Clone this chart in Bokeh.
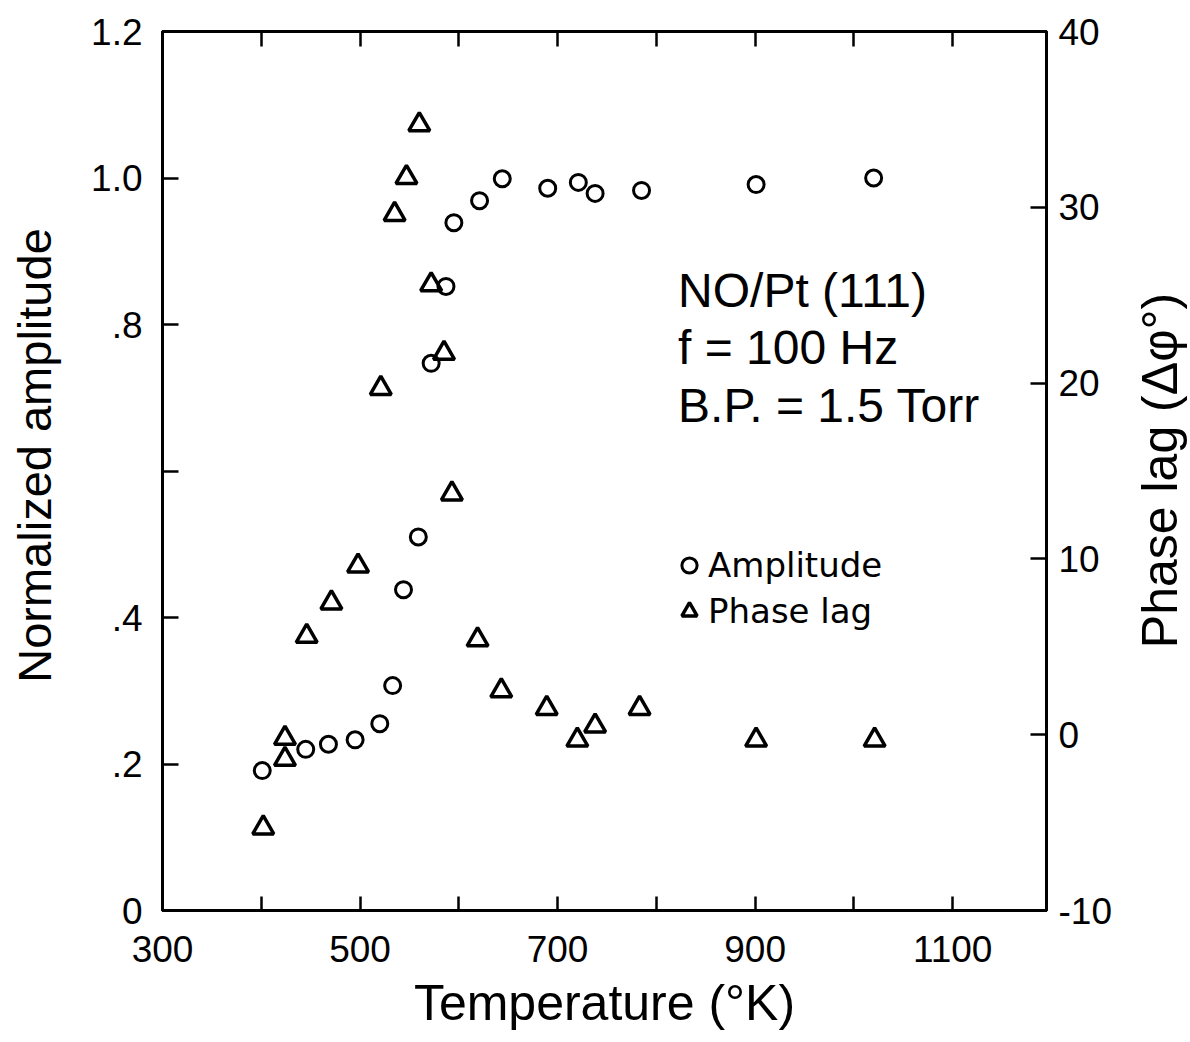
import math
from bokeh.plotting import figure
from bokeh.layouts import row
from bokeh.models import Range1d, LinearAxis, FixedTicker, Label, Legend, LegendItem
from bokeh.embed import file_html
from bokeh.resources import INLINE

# ---- data ----
amp_T = [401, 445, 468, 495, 520, 533, 544, 559, 572, 587, 595, 621, 644, 690, 721, 738, 785, 901, 1020]
amp_val = [0.191, 0.220, 0.227, 0.233, 0.255, 0.307, 0.438, 0.510, 0.747, 0.852, 0.939,
           0.969, 0.999, 0.986, 0.994, 0.979, 0.983, 0.991, 1.000]
phase_T = [402, 424, 424, 446, 471, 498, 521, 535, 547, 560, 572, 585, 593, 619, 643,
           689, 720, 738, 783, 901, 1021]
phase_val = [-5.3, -0.2, -1.4, 5.6, 7.5, 9.6, 19.7, 29.6, 31.7, 34.7, 25.6, 21.7, 13.7,
             5.4, 2.5, 1.5, -0.3, 0.5, 1.5, -0.3, -0.3]

x_major_ticks = [300, 500, 700, 900, 1100]
x_minor_ticks = [400, 600, 800, 1000]
x_top_ticks = [400, 500, 600, 700, 800, 900, 1000, 1100]
amp_major_ticks = [0, 0.2, 0.4, 0.8, 1, 1.2]
amp_minor_ticks = [0.6]
amp_tick_labels = {0: "0", 0.2: ".2", 0.4: ".4", 0.8: ".8", 1: "1.0", 1.2: "1.2"}
phase_ticks = [-10, 0, 10, 20, 30, 40]
phase_tick_labels = {-10: "-10"}

annotation_lines = ["NO/Pt (111)", "f = 100 Hz", "B.P. = 1.5 Torr"]
annotation_amp = [0.846, 0.769, 0.689]

x_title = "Temperature (°K)"
y_title = "Normalized amplitude"
y2_title = "Phase lag (Δφ°)"

FONT = "Liberation Sans"
H = 1042
W_LEFT, W_MAIN, W_RIGHT = 88, 1032, 70

p = figure(width=W_MAIN, height=H,
           x_range=Range1d(300, 1195), y_range=Range1d(0, 1.2),
           output_backend="svg", toolbar_location=None,
           min_border_left=73, min_border_right=74,
           min_border_top=31, min_border_bottom=132,
           x_axis_label=x_title)
p.extra_y_ranges = {"phase": Range1d(-10, 40)}
p.background_fill_color = "white"
p.border_fill_color = "white"
p.grid.visible = False
p.outline_line_color = "black"
p.outline_line_width = 3

right_axis = LinearAxis(y_range_name="phase")
p.add_layout(right_axis, "right")
top_axis = LinearAxis()
p.add_layout(top_axis, "above")

def style_axis(ax, tick_in):
    ax.axis_line_color = "black"
    ax.axis_line_width = 3
    ax.major_tick_line_color = "black"
    ax.major_tick_line_width = 2.5
    ax.major_tick_in = tick_in
    ax.major_tick_out = 0
    ax.minor_tick_line_color = "black"
    ax.minor_tick_line_width = 2.5
    ax.minor_tick_in = tick_in
    ax.minor_tick_out = 0
    ax.major_label_text_font = FONT
    ax.major_label_text_font_size = "37px"
    ax.major_label_text_color = "black"
    ax.axis_label_text_font = FONT
    ax.axis_label_text_font_style = "normal"
    ax.axis_label_text_color = "black"

xb = p.below[0]
style_axis(xb, 14)
xb.ticker = FixedTicker(ticks=x_major_ticks, minor_ticks=x_minor_ticks)
xb.major_label_standoff = 25
xb.axis_label_text_font_size = "50px"
xb.axis_label_standoff = 10

style_axis(top_axis, 15)
top_axis.ticker = FixedTicker(ticks=[], minor_ticks=x_top_ticks)
top_axis.major_label_standoff = 0

yl = p.left[0]
style_axis(yl, 16)
yl.ticker = FixedTicker(ticks=amp_major_ticks, minor_ticks=amp_minor_ticks)
yl.major_label_overrides = amp_tick_labels
yl.major_label_standoff = 20

style_axis(right_axis, 16)
right_axis.ticker = FixedTicker(ticks=phase_ticks, minor_ticks=[])
right_axis.major_label_overrides = phase_tick_labels
right_axis.major_label_standoff = 12

circ = p.scatter(amp_T, amp_val, marker="circle", size=16, fill_color=None,
                 line_color="black", line_width=3)
tri = p.scatter(phase_T, phase_val, marker="triangle", size=21, fill_color=None,
                line_color="black", line_width=3.5, y_range_name="phase")

legend = Legend(items=[LegendItem(label="Amplitude", renderers=[circ]),
                       LegendItem(label="Phase lag", renderers=[tri])],
                location=(508, 279), orientation="vertical",
                glyph_width=38, glyph_height=38, label_standoff=0,
                spacing=6, padding=0, margin=0,
                border_line_color=None, background_fill_alpha=0,
                label_text_font="DejaVu Sans", label_text_font_size="34px",
                label_text_color="black")
p.add_layout(legend, "center")

for txt, yv in zip(annotation_lines, annotation_amp):
    p.add_layout(Label(x=822, y=yv, text=txt, text_font=FONT, text_font_size="48px",
                       text_baseline="alphabetic", text_align="left", text_color="black"))

def title_strip(width, text, x, y, size):
    f = figure(width=width, height=H, x_range=Range1d(0, width), y_range=Range1d(0, H),
               output_backend="svg", toolbar_location=None,
               x_axis_type=None, y_axis_type=None, min_border=0)
    f.grid.visible = False
    f.outline_line_color = None
    f.background_fill_color = "white"
    f.border_fill_color = "white"
    f.add_layout(Label(x=x, y=y, x_units="screen", y_units="screen", text=text,
                       angle=math.pi / 2, text_font=FONT, text_font_size=size,
                       text_align="center", text_baseline="alphabetic",
                       text_color="black"))
    return f

left_strip = title_strip(W_LEFT, y_title, 34, 455, "47px")
right_strip = title_strip(W_RIGHT, y2_title, 39, 440, "50px")

layout = row(left_strip, p, right_strip, spacing=0)

open("out.html", "w").write(file_html(layout, INLINE))
